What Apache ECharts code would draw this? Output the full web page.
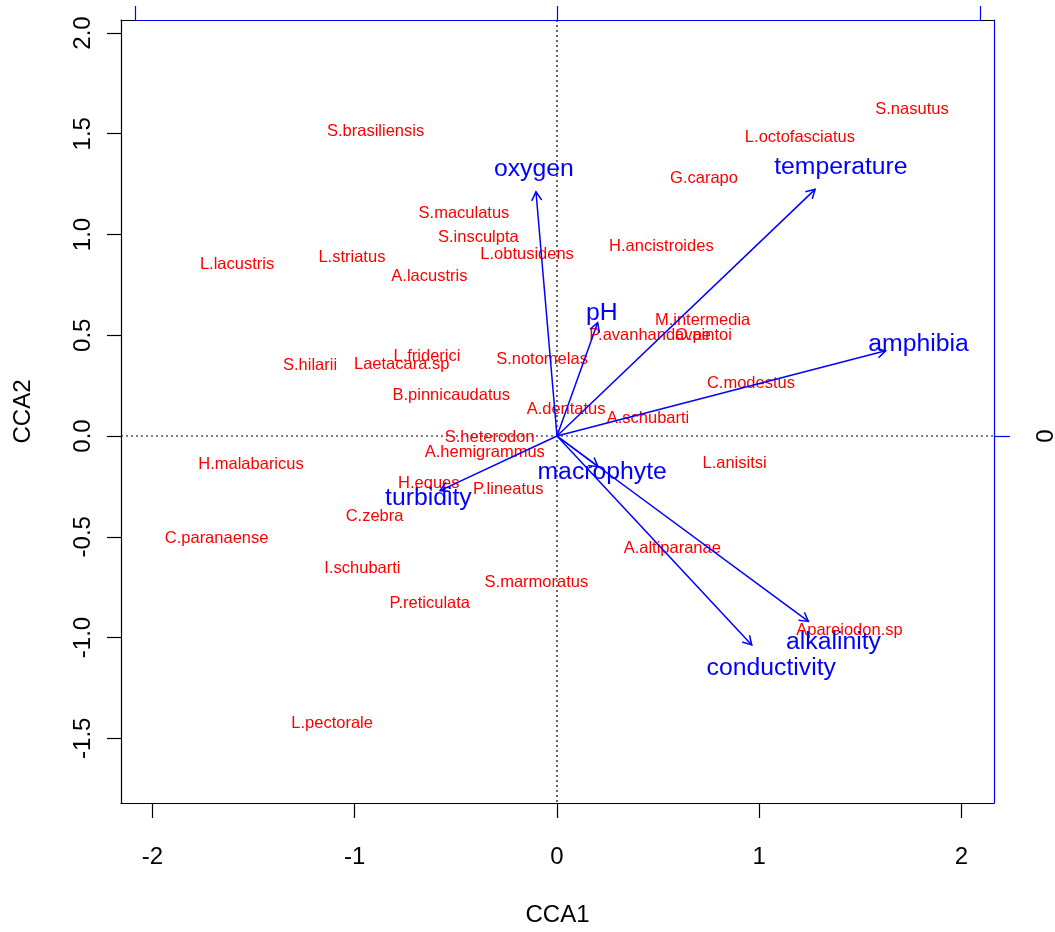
<!DOCTYPE html>
<html>
<head>
<meta charset="utf-8">
<script src="https://cdn.jsdelivr.net/npm/echarts@6/dist/echarts.min.js"></script>
<style>
  html, body { margin: 0; padding: 0; background: #ffffff; }
  #chart { width: 1055px; height: 932px; }
</style>
</head>
<body>
<div id="chart"></div>
<script>
// Species scores (CCA1, CCA2)
const speciesNames = ["S.nasutus", "L.octofasciatus", "S.brasiliensis", "G.carapo", "S.maculatus",
  "S.insculpta", "H.ancistroides", "L.obtusidens", "L.striatus", "L.lacustris", "A.lacustris",
  "M.intermedia", "P.avanhandavae", "O.pintoi", "S.hilarii", "Laetacara.sp", "L.friderici",
  "S.notomelas", "C.modestus", "B.pinnicaudatus", "A.dentatus", "A.schubarti", "S.heterodon",
  "A.hemigrammus", "H.malabaricus", "L.anisitsi", "H.eques", "P.lineatus", "C.zebra",
  "C.paranaense", "A.altiparanae", "I.schubarti", "S.marmoratus", "P.reticulata",
  "Apareiodon.sp", "L.pectorale"];
const speciesCCA1 = [1.755, 1.201, -0.897, 0.727, -0.460, -0.389, 0.516, -0.148, -1.014, -1.582,
  -0.631, 0.720, 0.460, 0.724, -1.221, -0.768, -0.643, -0.074, 0.959, -0.523, 0.045, 0.450,
  -0.333, -0.357, -1.513, 0.878, -0.634, -0.241, -0.902, -1.683, 0.570, -0.962, -0.102, -0.629,
  1.446, -1.112];
const speciesCCA2 = [1.626, 1.489, 1.519, 1.287, 1.110, 0.994, 0.948, 0.907, 0.895, 0.860,
  0.799, 0.579, 0.506, 0.506, 0.357, 0.364, 0.402, 0.387, 0.269, 0.207, 0.137, 0.096,
  0.001, -0.073, -0.135, -0.128, -0.227, -0.260, -0.392, -0.503, -0.549, -0.652, -0.718, -0.825,
  -0.959, -1.421];

// Environmental biplot arrows (tip coordinates)
const envNames = ["oxygen", "temperature", "pH", "amphibia", "macrophyte", "turbidity",
  "alkalinity", "conductivity"];
const envCCA1 = [-0.104, 1.276, 0.201, 1.625, 0.203, -0.578, 1.243, 0.963];
const envCCA2 = [1.212, 1.224, 0.562, 0.423, -0.152, -0.271, -0.920, -1.037];

// Axis ticks
const xTicks = [-2, -1, 0, 1, 2];
const yTicks = [-1.5, -1.0, -0.5, 0.0, 0.5, 1.0, 1.5, 2.0];
const xRange = [-2.1557, 2.1607];
const yRange = [-1.8213, 2.0645];

// arrow labels are placed a little beyond the tips
const labelMul = 1.1;

const RED = '#ff0000';
const BLUE = '#0000ff';
const FONT = '"Liberation Sans", Arial, Helvetica, sans-serif';

const speciesData = speciesNames.map((n, i) => [speciesCCA1[i], speciesCCA2[i]]);
const arrowData = envNames.map((n, i) => [envCCA1[i], envCCA2[i]]);
const envLabelData = envNames.map((n, i) => [envCCA1[i] * labelMul, envCCA2[i] * labelMul]);

const chart = echarts.init(document.getElementById('chart'), null, { renderer: 'canvas' });

const blackLine = { show: true, onZero: false, lineStyle: { color: '#000', width: 1.2 } };
const blueLine = { show: true, onZero: false, lineStyle: { color: BLUE, width: 1.2 } };

const option = {
  animation: false,
  backgroundColor: '#ffffff',
  textStyle: { fontFamily: FONT },
  grid: [
    { left: 121, right: 61, top: 20, bottom: 129, show: false, containLabel: false, outerBoundsMode: 'none' },
    { left: 135, right: 75, top: 20, bottom: 129, show: false, containLabel: false, outerBoundsMode: 'none' }
  ],
  xAxis: [
    {
      type: 'value', gridIndex: 0, position: 'bottom',
      min: xRange[0], max: xRange[1],
      name: 'CCA1', nameLocation: 'middle', nameGap: 100,
      nameTextStyle: { fontSize: 24, color: '#000', fontFamily: FONT },
      axisLine: blackLine,
      axisTick: { show: true, length: 15, customValues: xTicks, lineStyle: { color: '#000', width: 1.2 } },
      axisLabel: { show: true, customValues: xTicks, margin: 42, fontSize: 24, color: '#000', fontFamily: FONT,
        formatter: v => String(Math.round(v)) },
      splitLine: { show: false }
    },
    {
      // top edge of the frame
      type: 'value', gridIndex: 0, position: 'top',
      min: xRange[0], max: xRange[1],
      axisLine: blackLine,
      axisTick: { show: false }, axisLabel: { show: false }, splitLine: { show: false }
    },
    {
      // biplot scale along the top
      type: 'value', gridIndex: 1, position: 'top',
      min: -1, max: 1, interval: 1,
      axisLine: blueLine,
      axisTick: { show: true, length: 14, lineStyle: { color: BLUE, width: 1.2 } },
      axisLabel: { show: false },
      splitLine: { show: false }
    }
  ],
  yAxis: [
    {
      type: 'value', gridIndex: 0, position: 'left',
      min: yRange[0], max: yRange[1],
      name: 'CCA2', nameLocation: 'middle', nameGap: 86, nameRotate: 90,
      nameTextStyle: { fontSize: 24, color: '#000', fontFamily: FONT },
      axisLine: blackLine,
      axisTick: { show: true, length: 14, customValues: yTicks, lineStyle: { color: '#000', width: 1.2 } },
      axisLabel: { show: true, customValues: yTicks, rotate: 90, margin: 26, fontSize: 24, color: '#000', fontFamily: FONT,
        formatter: v => v.toFixed(1) },
      splitLine: { show: false }
    },
    {
      // biplot scale on the right
      type: 'value', gridIndex: 0, position: 'right',
      min: yRange[0], max: yRange[1],
      axisLine: blueLine,
      axisTick: { show: true, length: 16, customValues: [0], lineStyle: { color: BLUE, width: 1.2 } },
      axisLabel: { show: true, customValues: [0], rotate: 90, margin: 40, fontSize: 24, color: '#000', fontFamily: FONT,
        formatter: () => '0' },
      splitLine: { show: false }
    },
    { type: 'value', gridIndex: 1, show: false, min: -1, max: 1 }
  ],
  series: [
    {
      // dotted reference lines through the origin
      type: 'custom', xAxisIndex: 0, yAxisIndex: 0, z: 1, silent: true,
      data: [[0, 0]],
      renderItem: (params, api) => {
        const top = api.coord([0, yRange[1]]);
        const bot = api.coord([0, yRange[0]]);
        const lft = api.coord([xRange[0], 0]);
        const rgt = api.coord([xRange[1], 0]);
        const ds = { stroke: '#000', lineWidth: 1.2, lineDash: [2, 3] };
        return {
          type: 'group',
          children: [
            { type: 'line', shape: { x1: top[0], y1: top[1], x2: bot[0], y2: bot[1] }, style: ds },
            { type: 'line', shape: { x1: lft[0], y1: lft[1], x2: rgt[0], y2: rgt[1] }, style: ds }
          ]
        };
      }
    },
    {
      // species names
      type: 'custom', xAxisIndex: 0, yAxisIndex: 0, z: 3,
      data: speciesData,
      renderItem: (params, api) => {
        const p = api.coord([api.value(0), api.value(1)]);
        return {
          type: 'text', x: p[0], y: p[1] + 1.5,
          style: { text: speciesNames[params.dataIndex], fill: RED, font: '16.5px ' + FONT, align: 'center', verticalAlign: 'middle' }
        };
      }
    },
    {
      // environmental arrows
      type: 'custom', xAxisIndex: 0, yAxisIndex: 0, z: 4,
      data: arrowData,
      renderItem: (params, api) => {
        const o = api.coord([0, 0]);
        const t = api.coord([api.value(0), api.value(1)]);
        const ang = Math.atan2(t[1] - o[1], t[0] - o[0]);
        const hl = 10, ha = Math.PI / 6;
        const h1 = [t[0] - hl * Math.cos(ang - ha), t[1] - hl * Math.sin(ang - ha)];
        const h2 = [t[0] - hl * Math.cos(ang + ha), t[1] - hl * Math.sin(ang + ha)];
        const ls = { stroke: BLUE, lineWidth: 1.5, fill: null };
        return {
          type: 'group',
          children: [
            { type: 'line', shape: { x1: o[0], y1: o[1], x2: t[0], y2: t[1] }, style: ls },
            { type: 'polyline', shape: { points: [h1, t, h2] }, style: ls }
          ]
        };
      }
    },
    {
      // environmental variable names
      type: 'custom', xAxisIndex: 0, yAxisIndex: 0, z: 5,
      data: envLabelData,
      renderItem: (params, api) => {
        const p = api.coord([api.value(0), api.value(1)]);
        return {
          type: 'text', x: p[0], y: p[1] + 2,
          style: { text: envNames[params.dataIndex], fill: BLUE, font: '24.75px ' + FONT, align: 'center', verticalAlign: 'middle' }
        };
      }
    }
  ]
};

chart.setOption(option);
</script>
</body>
</html>
